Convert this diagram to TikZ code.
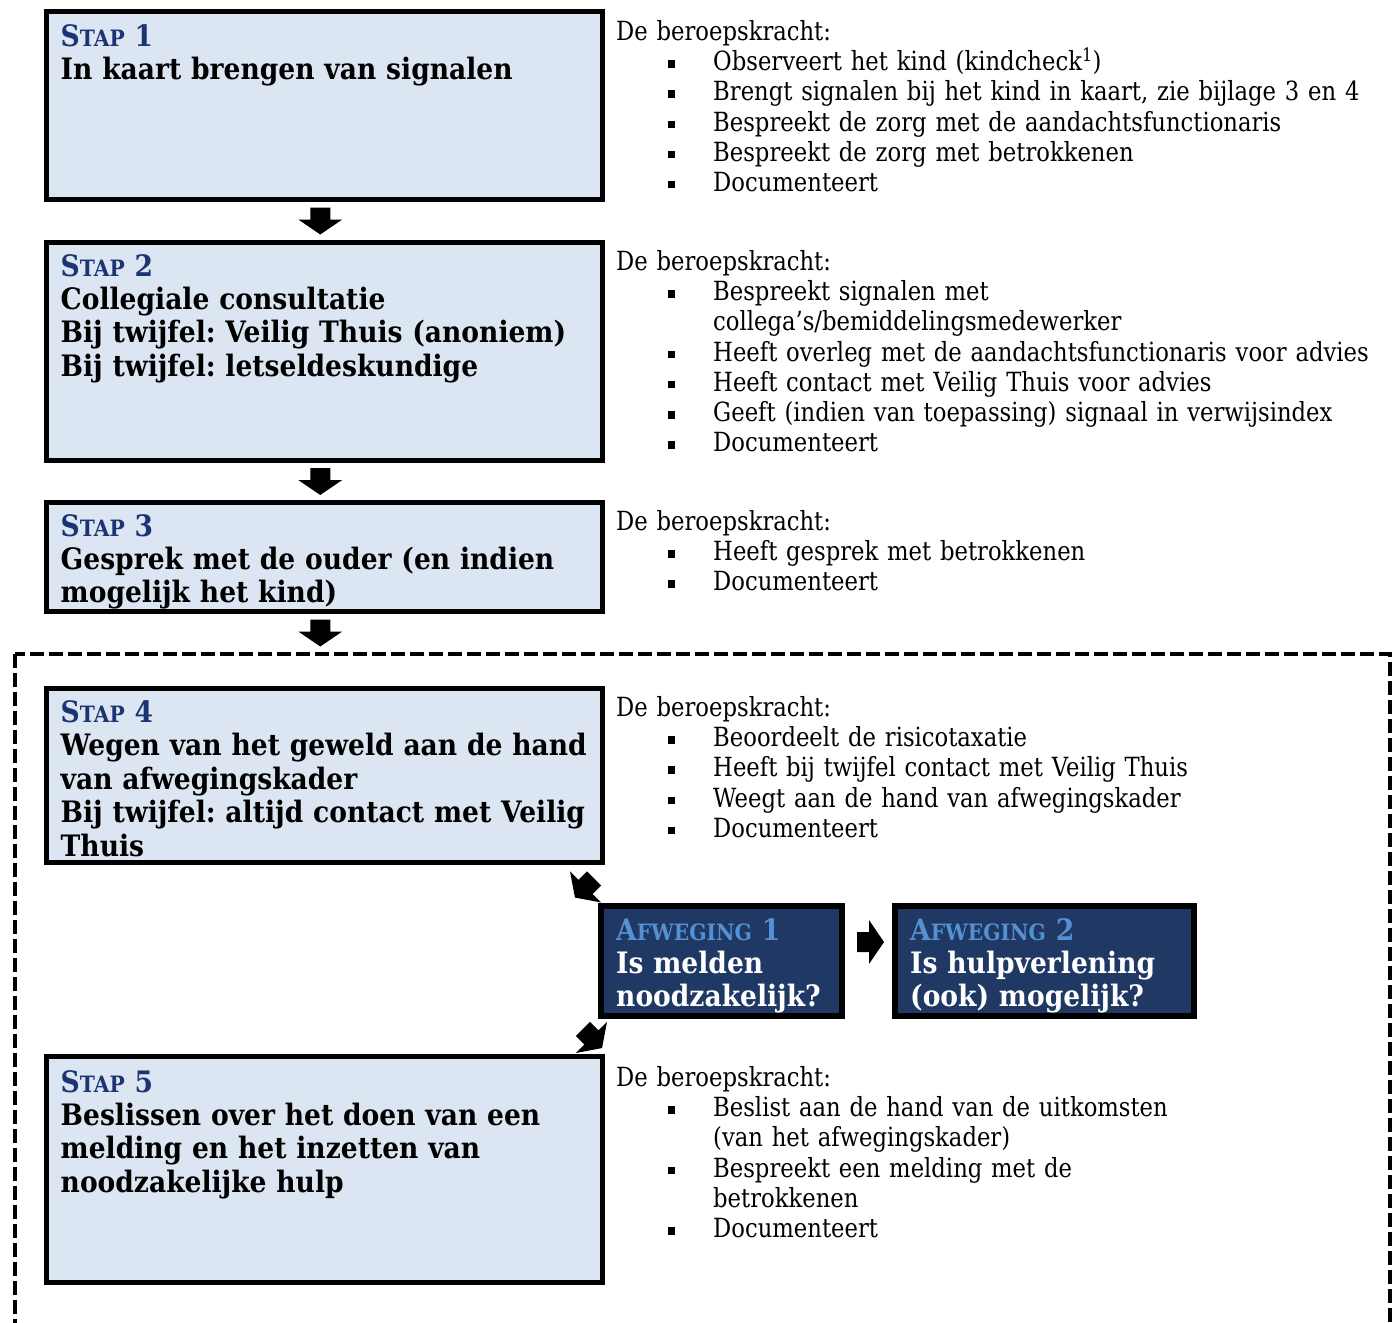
\documentclass[tikz,border=0pt]{standalone}
\usepackage{fontspec}
\setmainfont{DejaVu Serif}[UprightFeatures={FakeStretch=0.86}, BoldFeatures={FakeStretch=0.90}]
\usepackage{xcolor}
\usetikzlibrary{calc}
\definecolor{lichtblauw}{HTML}{DCE6F2}
\definecolor{stapblauw}{HTML}{1C3473}
\definecolor{donkerblauw}{HTML}{1F3864}
\definecolor{afwblauw}{HTML}{5591D2}
\frenchspacing
\newcommand{\tekst}{\fontsize{26.4}{30.2}\selectfont}
\newcommand{\koptekst}{\fontsize{29.5}{33.4}\selectfont\bfseries}
\newcommand{\klein}{\fontsize{22.5}{22.5}\selectfont}
\newcommand{\stap}[1]{{\color{stapblauw}S{\klein TAP} #1}}
\newcommand{\afw}[1]{{\color{afwblauw}A{\klein FWEGING} #1}}
\newcommand{\punt}[1]{\\\hspace*{52pt}\makebox[45pt][l]{\rule[3pt]{7pt}{7.5pt}}#1}
\newcommand{\verder}[1]{\\\hspace*{97pt}#1}
\tikzset{
  stapbox/.style={draw, line width=5pt, fill=lichtblauw, minimum width=556.5pt, inner sep=0pt},
  afwbox/.style={draw, line width=6pt, fill=donkerblauw, minimum height=110pt, inner sep=0pt},
  koptitel/.style={anchor=base west, inner sep=0pt, text width=545pt, align=left, font=\koptekst},
  uitleg/.style={anchor=base west, inner sep=0pt, text width=780pt, align=left, font=\tekst},
  kader/.style={line width=4pt, dash pattern=on 14pt off 5pt},
  pijl/.pic={\fill (-13.5,-10) -- (-1.5,-10) -- (-1.5,-22) -- (13.5,0) -- (-1.5,22) -- (-1.5,10) -- (-13.5,10) -- cycle;}
}

\begin{document}
\begin{tikzpicture}[x=1pt,y=-1pt]
  \useasboundingbox (0,0) rectangle (1396,1322);
  % stappen
  \node[stapbox, minimum height=187.5pt] (s1) at (324.25,105.75) {};
  \node[stapbox, minimum height=218pt] (s2) at (324.25,351.5) {};
  \node[stapbox, minimum height=109pt] (s3) at (324.25,557) {};
  \node[stapbox, minimum height=174pt] (s4) at (324.25,775.5) {};
  \node[stapbox, minimum height=226pt] (s5) at (324.25,1169.5) {};
  \node[afwbox, minimum width=241pt] (a1) at (721.5,961) {};
  \node[afwbox, minimum width=299pt] (a2) at (1044.5,961) {};
  \draw[kader] (14.5,653.5) rectangle (1389.5,1345);

  \node[koptitel] (k1) at ([shift={(17,36.5)}]s1.north west) {\stap{1}\\In kaart brengen van signalen};
  \node[koptitel] (k2) at ([shift={(17,36)}]s2.north west) {\stap{2}\\Collegiale consultatie\\Bij twijfel: Veilig Thuis (anoniem)\\Bij twijfel: letseldeskundige};
  \node[koptitel] (k3) at ([shift={(17,36)}]s3.north west) {\stap{3}\\Gesprek met de ouder (en indien\\mogelijk het kind)};
  \node[koptitel] (k4) at ([shift={(17,36.5)}]s4.north west) {\stap{4}\\Wegen van het geweld aan de hand\\van afwegingskader\\Bij twijfel: altijd contact met Veilig\\Thuis};
  \node[koptitel] (k5) at ([shift={(17,38)}]s5.north west) {\stap{5}\\Beslissen over het doen van een\\melding en het inzetten van\\noodzakelijke hulp};
  \node[koptitel, text width=220pt, text=white] (ka1) at ([shift={(18,37)}]a1.north west) {\afw{1}\\Is melden\\noodzakelijk?};
  \node[koptitel, text width=280pt, text=white] (ka2) at ([shift={(18,37)}]a2.north west) {\afw{2}\\Is hulpverlening\\(ook) mogelijk?};

  \node[uitleg] (u1) at ([shift={(11,31)}]s1.north east) {De beroepskracht:
    \punt{Observeert het kind (kindcheck\textsuperscript{1})}
    \punt{Brengt signalen bij het kind in kaart, zie bijlage 3 en 4}
    \punt{Bespreekt de zorg met de aandachtsfunctionaris}
    \punt{Bespreekt de zorg met betrokkenen}
    \punt{Documenteert}};
  \node[uitleg] (u2) at ([shift={(11,30.5)}]s2.north east) {De beroepskracht:
    \punt{Bespreekt signalen met}
    \verder{collega’s/bemiddelingsmedewerker}
    \punt{Heeft overleg met de aandachtsfunctionaris voor advies}
    \punt{Heeft contact met Veilig Thuis voor advies}
    \punt{Geeft (indien van toepassing) signaal in verwijsindex}
    \punt{Documenteert}};
  \node[uitleg] (u3) at ([shift={(11,30.5)}]s3.north east) {De beroepskracht:
    \punt{Heeft gesprek met betrokkenen}
    \punt{Documenteert}};
  \node[uitleg] (u4) at ([shift={(11,30.5)}]s4.north east) {De beroepskracht:
    \punt{Beoordeelt de risicotaxatie}
    \punt{Heeft bij twijfel contact met Veilig Thuis}
    \punt{Weegt aan de hand van afwegingskader}
    \punt{Documenteert}};
  \node[uitleg] (u5) at ([shift={(11,32.5)}]s5.north east) {De beroepskracht:
    \punt{Beslist aan de hand van de uitkomsten}
    \verder{(van het afwegingskader)}
    \punt{Bespreekt een melding met de}
    \verder{betrokkenen}
    \punt{Documenteert}};

  % pijlen
  \pic[rotate=-90] at ($(s1.south)!0.5!(s2.north)+(-4,0)$) {pijl};
  \pic[rotate=-90] at ($(s2.south)!0.5!(s3.north)+(-4,0)$) {pijl};
  \pic[rotate=-90] at ($(s3.south)+(-4,19)$) {pijl};
  \pic[rotate=-135] at ($(s4.south east)!0.5!(a1.north west)+(-17,4)$) {pijl};
  \pic at ($(a1.east)!0.5!(a2.west)+(2,-19)$) {pijl};
  \pic[rotate=-45] at ($(a1.south west)!0.5!(s5.north east)+(-9,2)$) {pijl};
\end{tikzpicture}
\end{document}
